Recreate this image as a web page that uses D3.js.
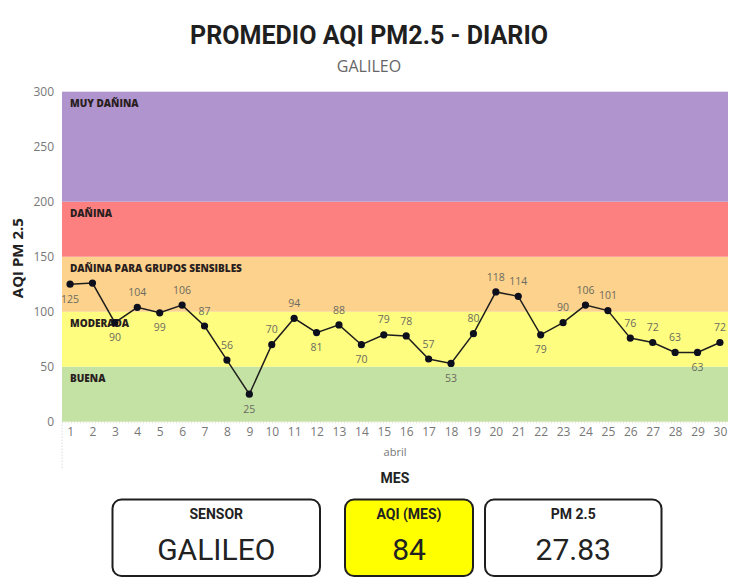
<!DOCTYPE html>
<html>
<head>
<meta charset="utf-8">
<script src="https://cdn.jsdelivr.net/npm/d3@7"></script>
<style>
  html, body { margin: 0; padding: 0; background: #ffffff; }
  svg { display: block; }
</style>
</head>
<body>
<svg id="chart" width="751" height="586"></svg>
<script>
// ---- data ----
const days = d3.range(1, 31).map(String);
const aqiValues = [125, 126, 90, 104, 99, 106, 87, 56, 25, 70,
                   94, 81, 88, 70, 79, 78, 57, 53, 80, 118,
                   114, 79, 90, 106, 101, 76, 72, 63, 63, 72];
const hiddenLabelDays = ["2"];
const bandNames = ["BUENA", "MODERADA", "DAÑINA PARA GRUPOS SENSIBLES", "DAÑINA", "MUY DAÑINA"];
const bandFrom = [0, 50, 100, 150, 200];
const bandTo = [50, 100, 150, 200, 300];
const bandColors = ["#c5e2a5", "#fefd80", "#fdd28c", "#fd8080", "#b094cd"];
const yTicks = [0, 50, 100, 150, 200, 250, 300];
const cardTitles = ["SENSOR", "AQI (MES)", "PM 2.5"];
const cardValues = ["GALILEO", "84", "27.83"];
const titleText = "PROMEDIO AQI PM2.5 - DIARIO";
const subtitleText = "GALILEO";
const monthLabel = "abril";
const xAxisTitle = "MES";
const yAxisTitle = "AQI PM 2.5";

// ---- layout ----
const svg = d3.select("#chart");
const plot = { left: 62, right: 728, top: 91.7, bottom: 421.7 };
const x = d3.scalePoint().domain(days).range([plot.left, plot.right]).padding(0.36);
const y = d3.scaleLinear().domain([0, 300]).range([plot.bottom, plot.top]);
const tickFont = "'Segoe UI', 'Open Sans', 'Noto Sans', sans-serif";
const headFont = "Roboto, 'Open Sans', sans-serif";

// title
svg.append("text").attr("x", 369).attr("y", 44).attr("text-anchor", "middle")
  .attr("font-family", headFont).attr("font-weight", 700).attr("font-size", 26)
  .attr("fill", "#1f1f1f").attr("textLength", 358).attr("lengthAdjust", "spacingAndGlyphs")
  .text(titleText);
svg.append("text").attr("x", 369).attr("y", 72).attr("text-anchor", "middle")
  .attr("font-family", tickFont).attr("font-size", 16).attr("fill", "#666")
  .text(subtitleText);

// bands
const bands = bandNames.map((n, i) => ({ name: n, from: bandFrom[i], to: bandTo[i], color: bandColors[i] }));
svg.append("g").selectAll("rect").data(bands).join("rect")
  .attr("x", plot.left).attr("width", plot.right - plot.left)
  .attr("y", d => y(d.to)).attr("height", d => y(d.from) - y(d.to))
  .attr("fill", d => d.color);
svg.append("g").selectAll("text").data(bands).join("text")
  .attr("x", plot.left + 8).attr("y", d => y(d.to) + 15)
  .attr("font-family", "'Open Sans', 'Noto Sans', sans-serif").attr("font-weight", 800)
  .attr("font-size", 10).attr("fill", "#2a1f1f")
  .text(d => d.name);

// y axis
const yAxis = d3.axisLeft(y).tickValues(yTicks).tickSize(0).tickPadding(8);
const gy = svg.append("g").attr("transform", `translate(${plot.left},0)`).call(yAxis);
gy.select(".domain").remove();
gy.selectAll("text").attr("font-family", tickFont).attr("font-size", 12).attr("fill", "#777");

svg.append("text")
  .attr("transform", `translate(23,${(y(150) + y(100)) / 2 - 26}) rotate(-90)`)
  .attr("text-anchor", "middle").attr("font-family", tickFont).attr("font-weight", 700)
  .attr("font-size", 14.5).attr("fill", "#222")
  .attr("textLength", 80).attr("lengthAdjust", "spacingAndGlyphs").text(yAxisTitle);

// x axis
const xAxis = d3.axisBottom(x).tickSize(0).tickPadding(6);
const gx = svg.append("g").attr("transform", `translate(0,${plot.bottom})`).call(xAxis);
gx.select(".domain").remove();
gx.selectAll("text").attr("font-family", tickFont).attr("font-size", 12).attr("fill", "#777");

svg.append("line").attr("x1", plot.left).attr("x2", plot.left)
  .attr("y1", plot.bottom).attr("y2", 470).attr("stroke", "#ccc").attr("stroke-dasharray", "1,2");
svg.append("line").attr("x1", plot.left).attr("x2", plot.right)
  .attr("y1", plot.bottom + 1).attr("y2", plot.bottom + 1).attr("stroke", "#ddd").attr("stroke-dasharray", "1,2");

svg.append("text").attr("x", (plot.left + plot.right) / 2).attr("y", 456)
  .attr("text-anchor", "middle").attr("font-family", tickFont).attr("font-size", 11)
  .attr("fill", "#777").text(monthLabel);
svg.append("text").attr("x", (plot.left + plot.right) / 2).attr("y", 483)
  .attr("text-anchor", "middle").attr("font-family", headFont).attr("font-weight", 700)
  .attr("font-size", 14).attr("fill", "#222").text(xAxisTitle);

// line + points
const pts = days.map((d, i) => ({ day: d, v: aqiValues[i], i }));
svg.append("path").datum(pts)
  .attr("fill", "none").attr("stroke", "#1e1e1e").attr("stroke-width", 1.5)
  .attr("d", d3.line().x(d => x(d.day)).y(d => y(d.v)));
svg.append("g").selectAll("circle").data(pts).join("circle")
  .attr("cx", d => x(d.day)).attr("cy", d => y(d.v)).attr("r", 3.6).attr("fill", "#0d0f1c");

// labels: below if local minimum, else above
function below(d) {
  const prev = d.i > 0 ? aqiValues[d.i - 1] : Infinity;
  const next = d.i < aqiValues.length - 1 ? aqiValues[d.i + 1] : -Infinity;
  return d.v <= prev && d.v < next;
}
svg.append("g").selectAll("text").data(pts.filter(d => !hiddenLabelDays.includes(d.day))).join("text")
  .attr("x", d => x(d.day)).attr("y", d => y(d.v) + (below(d) ? 15 : -15))
  .attr("dy", "0.35em").attr("text-anchor", "middle")
  .attr("font-family", tickFont).attr("font-size", 10.5).attr("fill", "#6b6b5f")
  .text(d => d.v);

// cards
const cardX = [112.5, 345, 485];
const cardW = [207.5, 128, 176.5];
const cardFill = ["#ffffff", "#ffff00", "#ffffff"];
const cards = cardTitles.map((t, i) => ({ t, v: cardValues[i], x: cardX[i], w: cardW[i], fill: cardFill[i] }));
const cg = svg.append("g").selectAll("g").data(cards).join("g");
cg.append("rect").attr("x", d => d.x).attr("y", 499.5).attr("width", d => d.w).attr("height", 76.5)
  .attr("rx", 9).attr("fill", d => d.fill).attr("stroke", "#1e1e1e").attr("stroke-width", 2);
cg.append("text").attr("x", d => d.x + d.w / 2).attr("y", 519)
  .attr("text-anchor", "middle").attr("font-family", headFont).attr("font-weight", 700)
  .attr("font-size", 14).attr("fill", "#222").text(d => d.t);
cg.append("text").attr("x", d => d.x + d.w / 2).attr("y", 560)
  .attr("text-anchor", "middle").attr("font-family", headFont).attr("font-weight", 400)
  .attr("font-size", 30).attr("fill", "#222").text(d => d.v);
</script>
</body>
</html>
